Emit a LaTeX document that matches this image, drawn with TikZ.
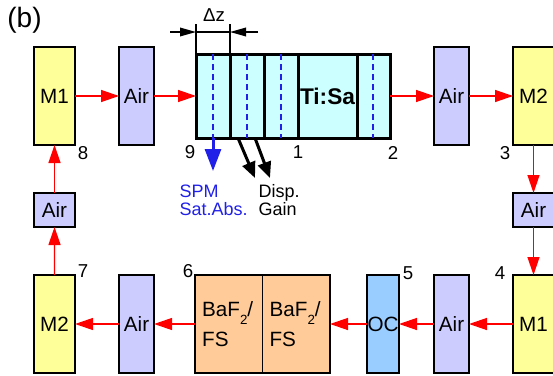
\documentclass[tikz,border=0pt]{standalone}
\usepackage{fontspec}
\setmainfont{Liberation Sans}
\usepackage{xcolor}
\usepackage{tikz}
\usetikzlibrary{arrows.meta, positioning, calc}

\definecolor{mirrorfill}{HTML}{FFFF99}
\definecolor{airfill}{HTML}{CCCCFF}
\definecolor{baffill}{HTML}{FFCC99}
\definecolor{ocfill}{HTML}{99CCFF}
\definecolor{crystalfill}{HTML}{CCFFFF}
\definecolor{pulseblue}{HTML}{2020E8}

\begin{document}
\begin{tikzpicture}[
    x=0.75pt, y=-0.75pt,
    font=\fontsize{15.5}{17}\selectfont,
    optic/.style={draw, rectangle, line width=1pt, inner sep=0pt, outer sep=0pt, minimum height=73.5pt},
    mirror/.style={optic, fill=mirrorfill, minimum width=30.75pt},
    airbox/.style={optic, fill=airfill, minimum width=26.25pt},
    smallair/.style={optic, fill=airfill, minimum width=30.75pt, minimum height=25.5pt},
    bafbox/.style={optic, fill=baffill, minimum width=50.6pt, text width=40pt, align=left, font=\fontsize{15.5}{22}\selectfont},
    ocbox/.style={optic, fill=ocfill, minimum width=24pt},
    crystal/.style={draw, rectangle, line width=2.25pt, inner sep=0pt, outer sep=0pt, fill=crystalfill, minimum width=145.5pt, minimum height=63pt},
    beam/.style={red, line width=1pt, -{Triangle[length=13.5pt,width=9pt]}},
    dimarrow/.style={line width=1pt, -{Triangle[length=12pt,width=6.5pt]}},
    effect/.style={line width=2.25pt, -{Triangle[length=12pt,width=10pt]}},
    num/.style={font=\fontsize{14}{15}\selectfont},
    small/.style={font=\fontsize{13.5}{13.5}\selectfont, align=left, anchor=west}
]
\useasboundingbox (0,0) rectangle (553,375);

% Panel label
\node[font=\fontsize{21}{23}\selectfont] (panel) at (24.5,20) {(b)};

% Upper arm
\node[mirror] (m1top) at (54.5,96) {M1};
\node[airbox, right=33pt of m1top] (air1) {Air};
\node[crystal, right=31.5pt of air1] (tisa) {};
\node[airbox, right=33pt of tisa] (air2) {Air};
\node[mirror, right=33pt of air2] (m2top) {M2};

% Crystal slices
\foreach \dx in {17,51,85,177}
    \draw[pulseblue, line width=1.5pt, dash pattern=on 4.5pt off 3pt] ($(tisa.north west)+(\dx,0)$) -- ($(tisa.south west)+(\dx,0)$);
\foreach \dx in {34,68,102,161}
    \draw[line width=2.25pt] ($(tisa.north west)+(\dx,0)$) -- ($(tisa.south west)+(\dx,0)$);
\node[font=\fontsize{17}{18}\selectfont\bfseries] (tisalabel) at ($(tisa.west)+(131.5,0)$) {Ti:Sa};

% Slice thickness
\coordinate (dzL) at ($(tisa.north west)+(0,-30)$);
\coordinate (dzR) at ($(tisa.north west)+(34,-30)$);
\coordinate (dzA) at ($(tisa.north west)+(-26,-22)$);
\coordinate (dzB) at ($(tisa.north west)+(62,-22)$);
\draw[line width=1pt] (tisa.north west) -- (dzL);
\draw[line width=1pt] ($(tisa.north west)+(34,0)$) -- (dzR);
\draw[line width=1pt] (dzA -| dzL) -- (dzB -| dzR);
\draw[dimarrow] (dzA) -- (dzA -| dzL);
\draw[dimarrow] (dzB) -- (dzB -| dzR);
\node[num] (dzlabel) at (214,15) {Δz};

% Effects per slice
\coordinate (spmbase) at ($(tisa.south west)+(17,0)$);
\coordinate (spmtip) at ($(tisa.south west)+(17,33)$);
\coordinate (dispbase) at ($(tisa.south west)+(42,0)$);
\coordinate (disptip) at ($(tisa.south west)+(59,40)$);
\coordinate (gainbase) at ($(tisa.south west)+(59,0)$);
\coordinate (gaintip) at ($(tisa.south west)+(74,40)$);
\draw[effect, pulseblue, -{Triangle[length=16.5pt,width=12pt]}] (spmbase) -- (spmtip);
\draw[effect] (dispbase) -- (disptip);
\draw[effect] (gainbase) -- (gaintip);
\node[small, text=pulseblue] (spm) at (175,200) {SPM\\Sat.Abs.};
\node[small] (disp) at (254,200) {Disp.\\Gain};

% Folding arms
\node[smallair, below=36pt of m2top] (airR) {Air};
\node[mirror, below=36pt of airR] (m1bot) {M1};
\node[smallair, below=36pt of m1top] (airL) {Air};

% Lower arm
\node[airbox, left=33pt of m1bot] (airbotR) {Air};
\node[ocbox, left=26.25pt of airbotR] (oc) {OC};
\node[bafbox, left=27.75pt of oc] (baf2) {BaF\raisebox{-6pt}{\fontsize{10}{10}\selectfont 2}/\\FS};
\node[bafbox, left=0pt of baf2] (baf1) {BaF\raisebox{-6pt}{\fontsize{10}{10}\selectfont 2}/\\FS};
\node[airbox, left=30.75pt of baf1] (airbotL) {Air};
\node[mirror, left=33pt of airbotL] (m2bot) {M2};

% Position numbers
\node[num] (n1) at (298,152) {1};
\node[num] (n2) at (393,153) {2};
\node[num] (n3) at (505,153) {3};
\node[num] (n4) at (500,273) {4};
\node[num] (n5) at (408,273) {5};
\node[num] (n6) at (188,271) {6};
\node[num] (n7) at (83,271) {7};
\node[num] (n8) at (83,153) {8};
\node[num] (n9) at (190,152) {9};

% Beam path
\draw[beam] (m1top) -- (air1);
\draw[beam] (air1.east) -- (air1.east -| tisa.west);
\draw[beam] (tisa.east |- air2.west) -- (air2.west);
\draw[beam] (air2) -- (m2top);
\draw[beam] (m2top) -- (airR);
\draw[beam] (airR) -- (m1bot);
\draw[beam] (m1bot) -- (airbotR);
\draw[beam] (airbotR) -- (oc);
\draw[beam] (oc) -- (baf2);
\draw[beam] (baf1) -- (airbotL);
\draw[beam] (airbotL) -- (m2bot);
\draw[beam] (m2bot) -- (airL);
\draw[beam] (airL) -- (m1top);

\end{tikzpicture}
\end{document}
